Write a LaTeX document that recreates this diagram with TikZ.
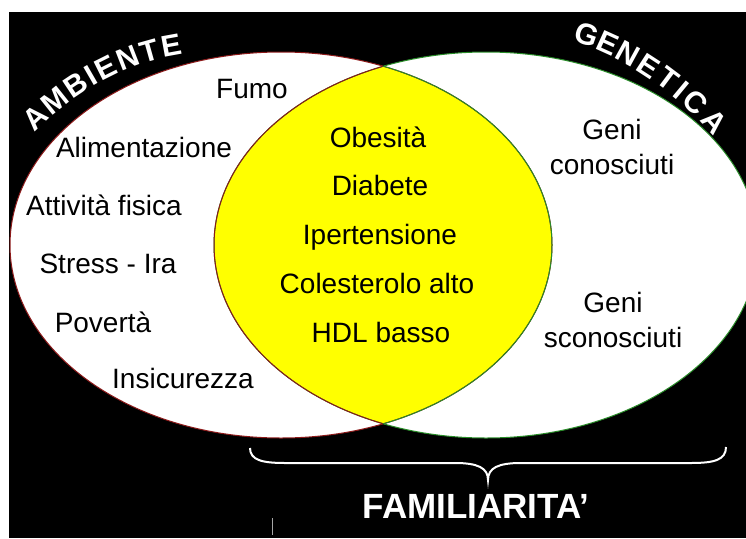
\documentclass[tikz,border=0pt]{standalone}
\usepackage{fontspec}
\setmainfont{Liberation Sans}
\definecolor{lred}{RGB}{140,25,25}
\definecolor{rgreen}{RGB}{40,140,40}
\definecolor{lensyellow}{RGB}{255,255,0}
\begin{document}
\begin{tikzpicture}[x=1pt,y=-1pt,
  lbl/.style={font=\fontsize{28}{35}\selectfont, text=black, inner sep=0pt, anchor=base},
  lbltwo/.style={font=\fontsize{28}{35}\selectfont, text=black, inner sep=0pt, align=center, anchor=center},
  bigwhite/.style={font=\bfseries\fontsize{35}{40}\selectfont, text=white, inner sep=0pt, anchor=base},
  arcletter/.style={font=\bfseries\fontsize{30}{30}\selectfont, text=white, inner sep=0pt, sloped, anchor=base},
  edge/.style={line width=1pt},
  bracestyle/.style={white, line width=2pt}]
\useasboundingbox (0,0) rectangle (746,538);
\fill[white] (0,0) rectangle (746,538);
\fill[black] (9,12) rectangle (746,538);
\coordinate (cL) at (281,245);
\coordinate (cR) at (486,245);
% ellipses
\fill[white] (cL) ellipse [x radius=271pt, y radius=193pt];
\fill[white] (cR) ellipse [x radius=272pt, y radius=193pt];
\begin{scope}
  \clip (cL) ellipse [x radius=271pt, y radius=193pt];
  \fill[lensyellow] (cR) ellipse [x radius=272pt, y radius=193pt];
\end{scope}
\draw[edge, lred] (cL) ellipse [x radius=271pt, y radius=193pt];
\draw[edge, rgreen] (cR) ellipse [x radius=272pt, y radius=193pt];
\begin{scope}
  \clip (cL) ellipse [x radius=271pt, y radius=193pt];
  \draw[edge, lred] (cR) ellipse [x radius=272pt, y radius=193pt];
\end{scope}
\begin{scope}
  \clip (cR) ellipse [x radius=272pt, y radius=193pt];
  \draw[edge, rgreen] (cL) ellipse [x radius=271pt, y radius=193pt];
\end{scope}
% curved titles, letter by letter
\path (34,133) .. controls (75,92) and (125,62) .. (184,54)
  node[arcletter, pos=0.064] (amb1) {A}
  node[arcletter, pos=0.213] (amb2) {M}
  node[arcletter, pos=0.361] (amb3) {B}
  node[arcletter, pos=0.460] (amb4) {I}
  node[arcletter, pos=0.554] (amb5) {E}
  node[arcletter, pos=0.688] (amb6) {N}
  node[arcletter, pos=0.817] (amb7) {T}
  node[arcletter, pos=0.941] (amb8) {E};
\path (572,41) .. controls (620,55) and (675,90) .. (715,138)
  node[arcletter, pos=0.076] (gen1) {G}
  node[arcletter, pos=0.214] (gen2) {E}
  node[arcletter, pos=0.346] (gen3) {N}
  node[arcletter, pos=0.479] (gen4) {E}
  node[arcletter, pos=0.601] (gen5) {T}
  node[arcletter, pos=0.693] (gen6) {I}
  node[arcletter, pos=0.794] (gen7) {C}
  node[arcletter, pos=0.935] (gen8) {A};
% left labels
\node[lbl] (fumo) at (252,98) {Fumo};
\node[lbl] (alim) at (144,157) {Alimentazione};
\node[lbl] (att) at (104,215) {Attività fisica};
\node[lbl] (stress) at (108,273) {Stress - Ira};
\node[lbl] (pov) at (103,332) {Povertà};
\node[lbl] (insic) at (183,388) {Insicurezza};
% lens labels
\node[lbl] (obes) at (378,147) {Obesità};
\node[lbl] (diab) at (380,195) {Diabete};
\node[lbl] (iper) at (380,244) {Ipertensione};
\node[lbl] (coles) at (377,293) {Colesterolo alto};
\node[lbl] (hdl) at (381,342) {HDL basso};
% right labels
\node[lbltwo] (genic) at (612,147) {Geni\\conosciuti};
\node[lbltwo] (genis) at (613,320) {Geni\\sconosciuti};
% brace
\coordinate (bl) at (250,448);
\coordinate (bm) at (488,480);
\coordinate (br) at (726,447);
\draw[bracestyle] (bl) .. controls (250,460) and (262,463) .. (285,463) -- (455,463)
  .. controls (478,463) and (488,468) .. (bm)
  .. controls (488,468) and (498,463) .. (521,463) -- (691,463)
  .. controls (714,463) and (726,460) .. (br);
\node[bigwhite] (fam) at (476,518) {FAMILIARITA’};
\draw[gray!70, line width=0.7pt] (272,518) -- (272,535);
\end{tikzpicture}
\end{document}
